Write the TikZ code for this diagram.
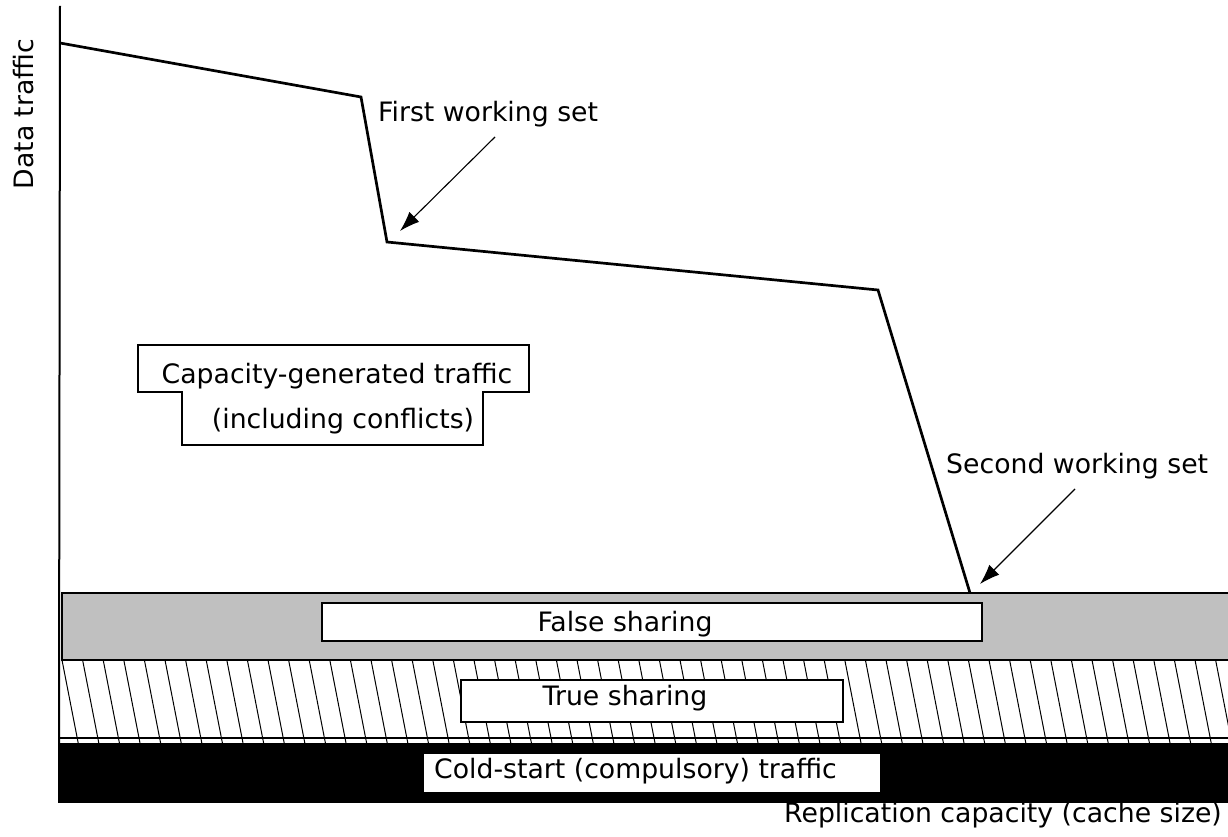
\documentclass[tikz,border=0pt]{standalone}
\usepackage{fontspec}
\setmainfont{DejaVu Sans}
\usetikzlibrary{arrows.meta}
\definecolor{bandgray}{HTML}{C0C0C0}
\begin{document}
\begin{tikzpicture}[x=1pt,y=-1pt,
  lbl/.style={inner sep=0pt, font=\fontsize{26.7}{30}\selectfont},
  curve/.style={line width=2.7pt, line join=miter},
  pointer/.style={line width=1.1pt, -{Latex[length=20pt,width=14pt]}},
  whitebox/.style={fill=white, draw=black, line width=1.2pt},
  hatch/.style={line width=1pt}]
\useasboundingbox (0,0) rectangle (1228,837);
\fill[white] (0,0) rectangle (1228,837);
% false sharing band
\draw[fill=bandgray, line width=2.2pt] (62,593) rectangle (1240,660);
% true sharing hatched band
\begin{scope}
  \clip (60,660) rectangle (1228,743);
  \foreach \i in {0,...,58} {
    \draw[hatch] ({62+20.6*\i},660) -- ({62+20.6*\i+16.2},743);
  }
\end{scope}
\draw[line width=1.6pt] (60,738) -- (1240,738);
% cold start band
\fill[black] (58,743) rectangle (1240,803);
% axis
\coordinate (atop) at (60,6);
\coordinate (abot) at (59,743);
\draw[line width=2pt] (atop) -- (abot);
% curve
\coordinate (c0) at (60,43);
\coordinate (c1) at (361,97);
\coordinate (c2) at (387,242);
\coordinate (c3) at (878,290);
\coordinate (c4) at (970,593);
\draw[curve] (c0) -- (c1) -- (c2) -- (c3) -- (c4);
% boxes
\node[whitebox, minimum width=660pt, minimum height=38pt, inner sep=0pt] (fsbox) at (652,622) {};
\node[whitebox, minimum width=382pt, minimum height=42pt, inner sep=0pt] (tsbox) at (652,701) {};
\node[fill=white, minimum width=456pt, minimum height=38pt, inner sep=0pt] (csbox) at (652,773) {};
\draw[whitebox] (138,345) -- (529,345) -- (529,392) -- (483,392) -- (483,445)
  -- (182,445) -- (182,392) -- (138,392) -- cycle;
% labels
\node[lbl, anchor=base] (cap1) at (337,383) {Capacity-generated traffic};
\node[lbl, anchor=base] (cap2) at (343,428) {(including conflicts)};
\node[lbl, anchor=base] (fs) at (625,631) {False sharing};
\node[lbl, anchor=base] (ts) at (625,705) {True sharing};
\node[lbl, anchor=base west] (cs) at (434,778) {Cold-start (compulsory) traffic};
\node[lbl, anchor=base west] (fws) at (378,122) {First working set};
\node[lbl, anchor=base west] (sws) at (946,473) {Second working set};
\node[lbl, anchor=base east] (xl) at (1222,822) {Replication capacity (cache size)};
\node[lbl, anchor=base, rotate=90] (yl) at (33,114) {Data traffic};
% pointers
\coordinate (p1s) at (495,137);
\coordinate (p1e) at (400,231);
\coordinate (p2s) at (1075,489);
\coordinate (p2e) at (980,584);
\draw[pointer] (p1s) -- (p1e);
\draw[pointer] (p2s) -- (p2e);
\end{tikzpicture}
\end{document}
